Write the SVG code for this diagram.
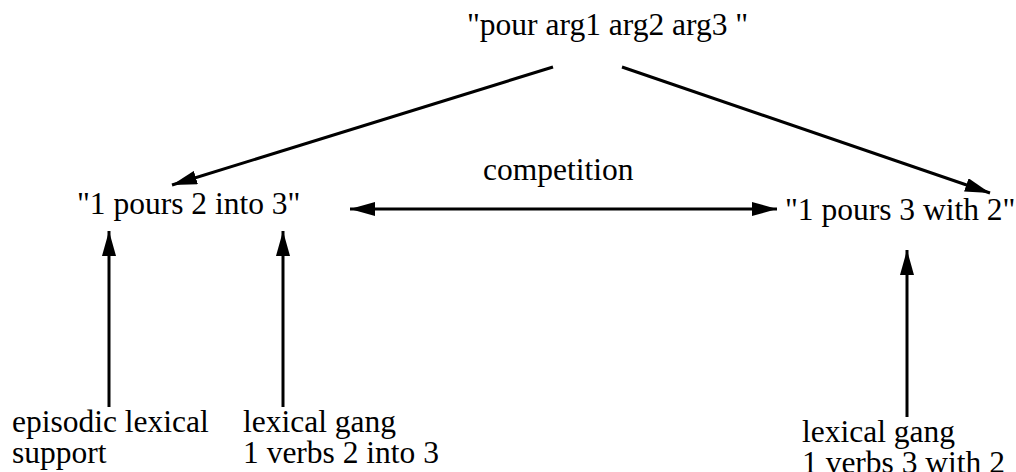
<svg xmlns="http://www.w3.org/2000/svg" width="1016" height="472" viewBox="0 0 1016 472">
  <style>
    .lbl { font-family: 'Liberation Serif', 'Times New Roman', serif; font-size: 31.5px; fill: #000; }
    .edge { stroke: #000; stroke-width: 3; fill: none; }
  </style>
  <defs>
    <!-- solid triangular arrowhead, reused at both ends of the competition link -->
    <marker id="head" viewBox="0 0 25 14" refX="25" refY="7" markerWidth="25" markerHeight="14" markerUnits="userSpaceOnUse" orient="auto-start-reverse">
      <path d="M0,0 L25,7 L0,14 Z" fill="#000"/>
    </marker>
  </defs>
  <rect width="1016" height="472" fill="#fff"/>

  <g id="edges">
    <line class="edge" x1="553" y1="67" x2="172" y2="185" marker-end="url(#head)"/>
    <line class="edge" x1="622" y1="67" x2="990" y2="193" marker-end="url(#head)"/>
    <line class="edge" x1="350" y1="209" x2="777" y2="209" marker-start="url(#head)" marker-end="url(#head)"/>
    <line class="edge" x1="109" y1="407" x2="109" y2="231" marker-end="url(#head)"/>
    <line class="edge" x1="283" y1="407" x2="283" y2="231" marker-end="url(#head)"/>
    <line class="edge" x1="907" y1="417" x2="907" y2="250" marker-end="url(#head)"/>
  </g>

  <g id="node-pour">
    <text class="lbl" x="467" y="35">"pour arg1 arg2 arg3 "</text>
  </g>
  <g id="node-into">
    <text class="lbl" x="77" y="214">"1 pours 2 into 3"</text>
  </g>
  <g id="node-with">
    <text class="lbl" x="785" y="220">"1 pours 3 with 2"</text>
  </g>
  <g id="label-competition">
    <text class="lbl" x="483" y="180">competition</text>
  </g>
  <g id="node-episodic">
    <text class="lbl" x="12" y="432">episodic lexical</text>
    <text class="lbl" x="12" y="463">support</text>
  </g>
  <g id="node-gang-into">
    <text class="lbl" x="243" y="432">lexical gang</text>
    <text class="lbl" x="243" y="463">1 verbs 2 into 3</text>
  </g>
  <g id="node-gang-with">
    <text class="lbl" x="802" y="442">lexical gang</text>
    <text class="lbl" x="802" y="473">1 verbs 3 with 2</text>
  </g>
</svg>
